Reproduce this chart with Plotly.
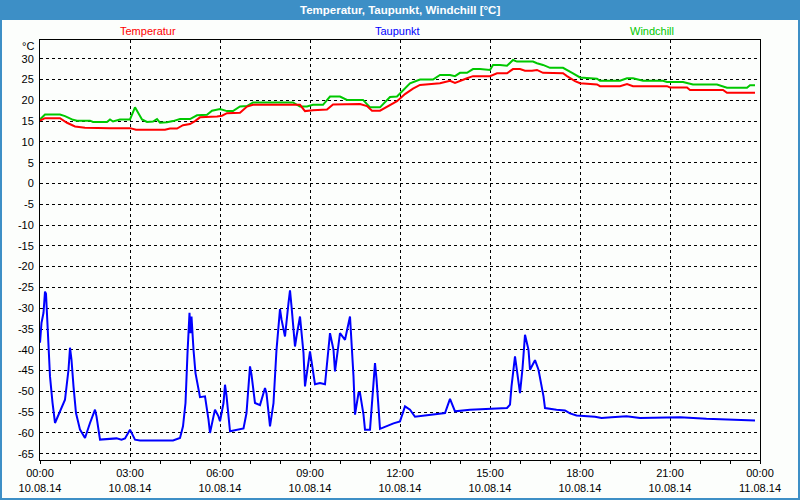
import datetime as dt
import plotly.graph_objects as go

# ---- data (minutes after 10.08.14 00:00, values in °C) ----
temp_min = [0, 10, 40, 54, 70, 90, 140, 180, 192, 250, 260, 274, 286, 300, 310, 320, 354, 364, 374, 400,
            414, 426, 520, 530, 546, 574, 586, 640, 654, 664, 680, 694, 714, 730, 746, 760, 800, 820, 830,
            854, 866, 900, 914, 934, 946, 960, 970, 984, 994, 1006, 1046, 1054, 1070, 1080, 1114, 1120,
            1160, 1174, 1186, 1254, 1260, 1294, 1300, 1366, 1374, 1430]
temp_val = [15.1, 15.7, 15.7, 14.6, 13.7, 13.4, 13.3, 13.3, 12.9, 12.9, 13.2, 13.2, 14.0, 14.3, 15.0, 15.9,
            16.1, 16.3, 16.9, 17.0, 18.5, 18.9, 18.9, 17.4, 17.6, 17.8, 19.0, 19.1, 18.6, 17.5, 17.5, 18.5,
            19.8, 21.5, 22.8, 23.7, 24.1, 24.7, 24.2, 25.3, 25.8, 25.8, 26.5, 26.5, 27.5, 27.5, 27.1, 27.1,
            27.3, 26.6, 26.5, 25.8, 24.6, 24.1, 23.8, 23.4, 23.4, 23.9, 23.4, 23.4, 23.1, 23.1, 22.5, 22.5,
            21.8, 21.8]

wind_min = [0, 10, 40, 50, 66, 74, 100, 106, 134, 140, 146, 160, 180, 190, 204, 214, 226, 234, 240, 254,
            266, 280, 300, 314, 334, 344, 360, 374, 386, 400, 414, 426, 506, 520, 534, 546, 566, 580, 600,
            614, 646, 660, 680, 700, 714, 724, 740, 760, 786, 800, 820, 830, 840, 854, 866, 880, 900, 906,
            920, 934, 946, 954, 986, 994, 1006, 1020, 1046, 1066, 1080, 1114, 1120, 1160, 1174, 1186, 1206,
            1246, 1254, 1286, 1306, 1354, 1374, 1414, 1420, 1430]
wind_val = [15.4, 16.6, 16.6, 16.2, 15.3, 15.1, 15.1, 14.8, 14.8, 15.4, 14.9, 15.4, 15.4, 18.3, 15.4, 14.8,
            14.9, 15.5, 14.6, 14.7, 15.0, 15.5, 15.5, 16.4, 16.5, 17.5, 17.9, 17.4, 17.4, 18.5, 18.6, 19.5,
            19.5, 18.5, 18.5, 18.9, 18.9, 20.9, 20.9, 20.1, 20.1, 18.3, 18.3, 20.8, 20.9, 22.1, 24.1, 25.0,
            25.0, 26.1, 26.1, 25.8, 26.6, 26.6, 27.5, 27.5, 27.3, 28.5, 28.5, 28.3, 29.7, 29.3, 29.3, 28.9,
            28.5, 27.8, 27.8, 26.5, 25.5, 25.2, 24.7, 24.7, 25.3, 25.3, 24.7, 24.7, 24.4, 24.4, 23.8, 23.8,
            23.0, 23.0, 23.6, 23.6]

dew_min = [0, 3, 7, 10, 12, 17, 20, 25, 30, 50, 57, 60, 63, 67, 72, 80, 90, 100, 110, 113, 120, 153, 163,
           170, 180, 190, 200, 266, 280, 286, 291, 295, 299, 301, 303, 307, 311, 320, 330, 337, 340, 347,
           350, 357, 360, 367, 370, 373, 380, 407, 413, 420, 423, 430, 440, 450, 453, 460, 467, 473, 480,
           483, 490, 497, 500, 503, 510, 513, 520, 527, 530, 540, 550, 560, 570, 580, 587, 590, 600, 610,
           620, 627, 630, 637, 640, 647, 650, 660, 667, 670, 673, 680, 707, 720, 730, 740, 750, 773, 810,
           820, 830, 860, 900, 934, 940, 943, 950, 953, 960, 965, 970, 977, 980, 990, 997, 1007, 1010, 1033,
           1050, 1060, 1073, 1110, 1123, 1143, 1173, 1200, 1247, 1280, 1333, 1393, 1430]
dew_val = [-38.3, -33.5, -31.1, -26.0, -26.5, -38.3, -46.4, -52.7, -57.6, -52.0, -44.8, -39.5, -42.4, -48.8,
           -55.2, -59.2, -61.2, -57.6, -54.4, -56.0, -61.6, -61.3, -61.6, -61.3, -59.2, -61.6, -61.8, -61.8,
           -61.2, -58.4, -52.8, -40.8, -31.1, -36.0, -32.0, -40.0, -45.6, -51.4, -51.2, -56.8, -60.0, -56.0,
           -54.4, -56.0, -57.2, -52.8, -48.4, -51.0, -59.6, -58.9, -55.2, -44.0, -46.0, -52.8, -53.3, -49.2,
           -50.5, -58.4, -52.8, -40.0, -30.2, -32.7, -36.8, -28.7, -25.7, -29.5, -39.2, -36.8, -32.0, -40.8,
           -48.8, -40.4, -48.3, -48.0, -48.3, -36.0, -40.0, -45.2, -36.0, -37.6, -32.0, -46.4, -55.6, -50.4,
           -50.4, -55.6, -59.2, -59.2, -48.8, -43.2, -47.0, -59.0, -57.7, -57.2, -53.6, -54.4, -56.1, -55.7,
           -55.2, -51.8, -54.8, -54.4, -54.2, -54.0, -53.2, -48.8, -41.6, -44.5, -50.4, -44.5, -36.4, -40.0,
           -44.8, -42.5, -44.8, -51.2, -54.0, -54.4, -54.6, -55.3, -55.8, -56.1, -56.4, -56.2, -56.0, -56.4,
           -56.3, -56.2, -56.6, -56.9, -57.0]

tick_hours = [0, 3, 6, 9, 12, 15, 18, 21, 24]
tick_text = ["00:00<br>10.08.14", "03:00<br>10.08.14", "06:00<br>10.08.14", "09:00<br>10.08.14",
             "12:00<br>10.08.14", "15:00<br>10.08.14", "18:00<br>10.08.14", "21:00<br>10.08.14",
             "00:00<br>11.08.14"]
y_ticks = list(range(-65, 31, 5))

base = dt.datetime(2014, 8, 10)
def tx(mins):
    return [base + dt.timedelta(minutes=m) for m in mins]

FONT = "Liberation Sans, Arial, sans-serif"
BLUE_BAR = "#3d8fc6"
BG = "#fcfefc"

fig = go.Figure()
fig.add_trace(go.Scatter(x=tx(dew_min), y=dew_val, mode="lines", name="Taupunkt",
                         line=dict(color="#0000ff", width=2)))
fig.add_trace(go.Scatter(x=tx(wind_min), y=wind_val, mode="lines", name="Windchill",
                         line=dict(color="#00c800", width=2)))
fig.add_trace(go.Scatter(x=tx(temp_min), y=temp_val, mode="lines", name="Temperatur",
                         line=dict(color="#ff0000", width=2)))

fig.update_layout(
    width=800, height=500,
    margin=dict(l=40, r=40, t=40, b=40, autoexpand=False),
    paper_bgcolor=BG, plot_bgcolor=BG,
    showlegend=False,
    font=dict(family=FONT, size=11, color="black"),
    xaxis=dict(
        type="date", automargin=False,
        range=[base, base + dt.timedelta(hours=24)],
        tickmode="array",
        tickvals=[base + dt.timedelta(hours=h) for h in tick_hours],
        ticktext=tick_text,
        ticks="outside", ticklen=3, tickcolor="black",
        showgrid=True, gridcolor="black", gridwidth=1, griddash="3px,3px",
        showline=True, linecolor="black", linewidth=1, mirror=True,
        minor=dict(ticks="outside", ticklen=3, tickcolor="black",
                   dtick=3600000, tick0=base, showgrid=False),
        zeroline=False,
    ),
    yaxis=dict(
        automargin=False,
        range=[-66.5, 34.5],
        tickmode="array", tickvals=y_ticks, ticktext=[str(v) for v in y_ticks],
        ticks="", ticklabelstandoff=3,
        showgrid=True, gridcolor="black", gridwidth=1, griddash="3px,3px",
        showline=True, linecolor="black", linewidth=1, mirror=True,
        zeroline=False,
    ),
)

# window frame and title bar
x0 = -40 / 720
x1 = 760 / 720
fig.add_shape(type="rect", xref="paper", yref="paper", x0=x0, x1=x1,
              y0=(460 - 20) / 420, y1=460 / 420, fillcolor=BLUE_BAR, line=dict(width=0), layer="below")
fig.add_shape(type="rect", xref="paper", yref="paper", x0=(1 - 40) / 720, x1=(799 - 40) / 720,
              y0=(460 - 499) / 420, y1=460 / 420, line=dict(color=BLUE_BAR, width=2),
              fillcolor="rgba(0,0,0,0)")

fig.add_annotation(text="<b>Temperatur, Taupunkt, Windchill [°C]</b>", xref="paper", yref="paper",
                   x=0.5, y=(460 - 10) / 420, xanchor="center", yanchor="middle", showarrow=False,
                   font=dict(family=FONT, size=11.5, color="white"))
for label, color, xp in [("Temperatur", "#ff0000", 148), ("Taupunkt", "#0000ff", 397),
                         ("Windchill", "#00c800", 652)]:
    fig.add_annotation(text=label, xref="paper", yref="paper", x=(xp - 40) / 720,
                       y=(460 - 31) / 420, xanchor="center", yanchor="middle", showarrow=False,
                       font=dict(family=FONT, size=11, color=color))
fig.add_annotation(text="°C", xref="paper", yref="paper", x=(36 - 40) / 720, y=(460 - 46) / 420,
                   xanchor="right", yanchor="middle", showarrow=False,
                   font=dict(family=FONT, size=11, color="black"))

fig.write_html("out.html", config={"displayModeBar": False},
               post_script="document.body.style.margin='0';document.body.style.overflow='hidden';")
